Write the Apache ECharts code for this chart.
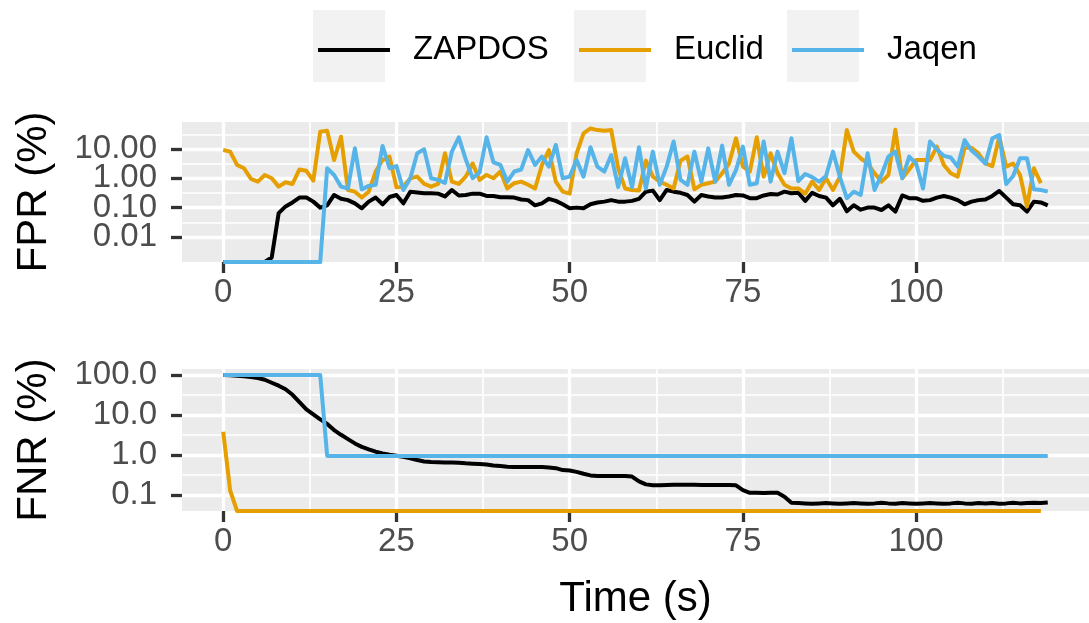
<!DOCTYPE html>
<html lang="en">
<head>
<meta charset="UTF-8">
<title>FPR / FNR over time</title>
<script src="https://cdn.jsdelivr.net/npm/echarts@6/dist/echarts.min.js"></script>
<style>
  html, body { margin: 0; padding: 0; background: #fff; }
  #chart { width: 1089px; height: 623px; }
</style>
</head>
<body>
<div id="chart"></div>
<script>
var names = ['ZAPDOS', 'Euclid', 'Jaqen'];
var colors = ['#000000', '#E69F00', '#56B4E9'];
var timeTicks = [0, 25, 50, 75, 100];
var fprTicks = [0.01, 0.1, 1, 10];
var fnrTicks = [0.1, 1, 10, 100];

// one sample per second (index = time in s); 0 means none -> drawn on the panel floor
var zapdosFpr = [
    0, 0, 0, 0, 0, 0, 0, 0.002, 0.065, 0.11,
    0.15, 0.22, 0.22, 0.16, 0.1, 0.12, 0.27, 0.2, 0.18, 0.14,
    0.095, 0.16, 0.22, 0.13, 0.23, 0.27, 0.14, 0.35, 0.33, 0.31,
    0.31, 0.3, 0.24, 0.4, 0.26, 0.27, 0.3, 0.3, 0.25, 0.25,
    0.225, 0.225, 0.22, 0.19, 0.18, 0.12, 0.14, 0.2, 0.17, 0.13,
    0.095, 0.1, 0.095, 0.13, 0.15, 0.16, 0.18, 0.16, 0.16, 0.17,
    0.2, 0.35, 0.38, 0.18, 0.4, 0.35, 0.32, 0.27, 0.16, 0.27,
    0.24, 0.22, 0.22, 0.24, 0.27, 0.26, 0.21, 0.21, 0.26, 0.29,
    0.28, 0.35, 0.31, 0.32, 0.17, 0.32, 0.25, 0.22, 0.12, 0.2,
    0.075, 0.12, 0.085, 0.1, 0.1, 0.083, 0.12, 0.073, 0.26, 0.21,
    0.21, 0.17, 0.18, 0.22, 0.25, 0.22, 0.18, 0.13, 0.16, 0.18,
    0.19, 0.25, 0.37, 0.22, 0.13, 0.12, 0.073, 0.16, 0.15, 0.12
];
var euclidFpr = [
    9.2, 8.1, 2.85, 2.2, 0.95, 0.77, 1.3, 1.0, 0.52, 0.73,
    0.64, 2.0, 1.8, 0.83, 39, 42, 4.2, 26, 0.4, 0.35,
    0.22, 0.35, 1.7, 4.2, 5.5, 0.49, 0.52, 1.0, 1.14, 0.64,
    0.52, 0.64, 7.1, 0.77, 0.64, 1.14, 3.2, 0.88, 1.3, 1.0,
    1.7, 0.45, 0.68, 0.77, 0.6, 0.45, 2.85, 9.2, 0.77, 0.35,
    0.3, 7, 34, 50, 44, 42, 44, 2.2, 0.45, 0.4,
    0.38, 4, 1.14, 0.77, 0.6, 0.45, 4, 5.5, 0.42, 0.6,
    0.68, 0.77, 1.48, 3.2, 23, 2.5, 1.7, 25, 1.14, 7.1,
    1.5, 0.6, 0.45, 0.45, 0.3, 0.77, 0.4, 1.0, 0.4, 1.14,
    44, 8.1, 4.8, 3.2, 1.48, 0.77, 1.3, 45, 1.0, 2.0,
    4.2, 4.2, 4.2, 12, 2.85, 1.48, 1.14, 11, 11, 7.1,
    3.2, 2.6, 26, 2.5, 3.2, 1.3, 0.108, 2.2, 0.68
];
var jaqenFpr = [
    0, 0, 0, 0, 0, 0, 0, 0, 0, 0,
    0, 0, 0, 0, 0, 2.2, 1.3, 0.52, 0.45, 10.5,
    0.42, 0.55, 0.6, 12.7, 2.2, 2.6, 0.4, 1.0, 7.1, 9.7,
    1.0, 0.88, 0.7, 8.1, 25, 4.4, 1.0, 1.6, 25, 3.5,
    2.85, 0.77, 1.7, 2.0, 9.2, 2.85, 5.5, 2.5, 13.7, 1.0,
    1.14, 4.2, 1.14, 11.4, 2.5, 1.7, 6.2, 0.5, 4.8, 0.5,
    11.4, 0.45, 8.1, 0.6, 2.5, 18, 0.88, 0.6, 8.1, 0.77,
    10.5, 0.77, 13, 0.6, 1.9, 12, 0.6, 0.68, 18, 0.77,
    8.1, 1.5, 23, 0.8, 1.4, 1.1, 0.77, 1.2, 8.1, 1.1,
    0.21, 0.35, 0.27, 7.1, 0.4, 1.3, 5.5, 8.1, 1.0, 5.5,
    3.2, 0.45, 18, 9.7, 5.8, 5.1, 2.5, 20, 8.8, 5.5,
    3.2, 23, 30, 0.64, 1.2, 4.8, 4.8, 0.42, 0.4, 0.35
];

// FNR (%)
var zapdosFnr = [
    100, 98, 96, 93, 89, 84, 76, 64, 54, 44,
    32, 21, 13.8, 10.4, 7.8, 6.0, 4.2, 3.2, 2.5, 1.95,
    1.6, 1.38, 1.21, 1.1, 1.02, 0.96, 0.91, 0.83, 0.75, 0.69,
    0.67, 0.66, 0.65, 0.65, 0.64, 0.62, 0.61, 0.6, 0.58, 0.55,
    0.53, 0.51, 0.5, 0.5, 0.5, 0.5, 0.5, 0.49, 0.47, 0.42,
    0.41, 0.38, 0.34, 0.31, 0.3, 0.3, 0.3, 0.3, 0.3, 0.29,
    0.22, 0.185, 0.176, 0.176, 0.178, 0.18, 0.18, 0.18, 0.18, 0.179,
    0.178, 0.178, 0.178, 0.178, 0.175, 0.133, 0.114, 0.114, 0.112, 0.114,
    0.114, 0.091, 0.064, 0.063, 0.062, 0.061, 0.062, 0.063, 0.062, 0.061,
    0.062, 0.063, 0.062, 0.061, 0.062, 0.064, 0.062, 0.061, 0.063, 0.062,
    0.061, 0.062, 0.063, 0.062, 0.061, 0.062, 0.064, 0.062, 0.061, 0.063,
    0.062, 0.063, 0.061, 0.062, 0.064, 0.062, 0.063, 0.064, 0.063, 0.065
];
var euclidFnr = [
    3.8, 0.13, 0, 0, 0, 0, 0, 0, 0, 0,
    0, 0, 0, 0, 0, 0, 0, 0, 0, 0,
    0, 0, 0, 0, 0, 0, 0, 0, 0, 0,
    0, 0, 0, 0, 0, 0, 0, 0, 0, 0,
    0, 0, 0, 0, 0, 0, 0, 0, 0, 0,
    0, 0, 0, 0, 0, 0, 0, 0, 0, 0,
    0, 0, 0, 0, 0, 0, 0, 0, 0, 0,
    0, 0, 0, 0, 0, 0, 0, 0, 0, 0,
    0, 0, 0, 0, 0, 0, 0, 0, 0, 0,
    0, 0, 0, 0, 0, 0, 0, 0, 0, 0,
    0, 0, 0, 0, 0, 0, 0, 0, 0, 0,
    0, 0, 0, 0, 0, 0, 0, 0, 0
];
var jaqenFnr = [
    100, 100, 100, 100, 100, 100, 100, 100, 100, 100,
    100, 100, 100, 100, 100, 0.95, 0.95, 0.95, 0.95, 0.95,
    0.95, 0.95, 0.95, 0.95, 0.95, 0.95, 0.95, 0.95, 0.95, 0.95,
    0.95, 0.95, 0.95, 0.95, 0.95, 0.95, 0.95, 0.95, 0.95, 0.95,
    0.95, 0.95, 0.95, 0.95, 0.95, 0.95, 0.95, 0.95, 0.95, 0.95,
    0.95, 0.95, 0.95, 0.95, 0.95, 0.95, 0.95, 0.95, 0.95, 0.95,
    0.95, 0.95, 0.95, 0.95, 0.95, 0.95, 0.95, 0.95, 0.95, 0.95,
    0.95, 0.95, 0.95, 0.95, 0.95, 0.95, 0.95, 0.95, 0.95, 0.95,
    0.95, 0.95, 0.95, 0.95, 0.95, 0.95, 0.95, 0.95, 0.95, 0.95,
    0.95, 0.95, 0.95, 0.95, 0.95, 0.95, 0.95, 0.95, 0.95, 0.95,
    0.95, 0.95, 0.95, 0.95, 0.95, 0.95, 0.95, 0.95, 0.95, 0.95,
    0.95, 0.95, 0.95, 0.95, 0.95, 0.95, 0.95, 0.95, 0.95, 0.95
];

var FONT = 'Liberation Sans, Arial, sans-serif';
var fprRange = [0.0014, 83];
var fnrRange = [0.04, 141];
var legendLeft = [313, 574, 787];

// zero -> panel floor, like ggplot puts -Inf on the edge
function toPairs(arr, floor) {
    return arr.map(function (v, i) { return [i, v > 0 ? v : floor]; });
}

// ggplot-like white grid: majors at ticks, minors halfway between (log-halfway on y)
function gridLines(yTicks, yRange) {
    var r10 = Math.sqrt(10);
    var d = [];
    timeTicks.forEach(function (v) {
        d.push({ xAxis: v, lineStyle: { width: 3.3 } });
        d.push({ xAxis: v + 12.5, lineStyle: { width: 1.7 } });
    });
    yTicks.forEach(function (v) { d.push({ yAxis: v, lineStyle: { width: 3.3 } }); });
    [yTicks[0] / r10].concat(yTicks.map(function (v) { return v * r10; }))
        .filter(function (v) { return v > yRange[0] && v < yRange[1]; })
        .forEach(function (v) { d.push({ yAxis: v, lineStyle: { width: 1.7 } }); });
    return {
        silent: true, z: 1, symbol: 'none', animation: false,
        label: { show: false },
        emphasis: { disabled: true },
        lineStyle: { color: '#ffffff', type: 'solid', opacity: 1 },
        data: d
    };
}

function xAxisOf(gridIndex, withName) {
    var ax = {
        type: 'value', gridIndex: gridIndex, min: -5.95, max: 124.95,
        axisLine: { show: false },
        splitLine: { show: false },
        axisTick: { show: true, customValues: timeTicks, length: 11, lineStyle: { color: '#333333', width: 3.3 } },
        axisLabel: {
            customValues: timeTicks, margin: 14, fontSize: 33, color: '#4D4D4D', fontFamily: FONT,
            showMinLabel: true, showMaxLabel: true
        }
    };
    if (withName) {
        ax.name = 'Time (s)';
        ax.nameLocation = 'middle';
        ax.nameGap = 67;
        ax.nameTextStyle = { fontSize: 42, color: '#000000', fontFamily: FONT };
    }
    return ax;
}

// data axis of a panel: carries the scale and the title only
function yDataAxis(gridIndex, name, range) {
    return {
        type: 'log', logBase: 10, gridIndex: gridIndex, position: 'left', offset: 0,
        min: range[0], max: range[1],
        name: name, nameLocation: 'middle', nameGap: 127,
        nameTextStyle: { fontSize: 42, color: '#000000', fontFamily: FONT },
        axisLine: { show: false }, splitLine: { show: false },
        axisTick: { show: false }, axisLabel: { show: false }
    };
}

// tick/label layer: the log panels are too tight for one axis to print every label
function yTickAxis(gridIndex, labels, range, digits) {
    return {
        type: 'log', logBase: 10, gridIndex: gridIndex, position: 'left', offset: 0,
        min: range[0], max: range[1],
        axisLine: { show: false },
        splitLine: { show: false },
        minorTick: { show: false },
        axisTick: { show: true, customValues: labels, length: 11, lineStyle: { color: '#333333', width: 3.3 } },
        axisLabel: {
            customValues: labels, margin: 25, fontSize: 33, color: '#4D4D4D', fontFamily: FONT,
            showMinLabel: true, showMaxLabel: true, hideOverlap: false,
            formatter: function (v) { return Number(v).toFixed(digits); }
        }
    };
}

var panels = [
    { grid: 0, values: [zapdosFpr, euclidFpr, jaqenFpr], range: fprRange, ticks: fprTicks },
    { grid: 1, values: [zapdosFnr, euclidFnr, jaqenFnr], range: fnrRange, ticks: fnrTicks }
];

var series = [];
panels.forEach(function (p) {
    names.forEach(function (n, i) {
        var s = {
            name: n, type: 'line', xAxisIndex: p.grid, yAxisIndex: p.grid,
            data: toPairs(p.values[i], p.range[0]),
            symbol: 'none', showSymbol: false, animation: false,
            lineStyle: { color: colors[i], width: 4, join: 'round' },
            itemStyle: { color: colors[i] },
            z: 2 + i
        };
        if (i === 0) s.markLine = gridLines(p.ticks, p.range);
        series.push(s);
    });
});

var fprLabelA = fprTicks.filter(function (v, i) { return i % 2 === 0; });
var fprLabelB = fprTicks.filter(function (v, i) { return i % 2 === 1; });
var fnrLabelA = fnrTicks.filter(function (v, i) { return i % 2 === 0; });
var fnrLabelB = fnrTicks.filter(function (v, i) { return i % 2 === 1; });

var option = {
    backgroundColor: '#ffffff',
    animation: false,
    grid: [
        { left: 182, top: 122, width: 916, height: 140, show: true, backgroundColor: '#EBEBEB', borderWidth: 0 },
        { left: 182, top: 369, width: 916, height: 142, show: true, backgroundColor: '#EBEBEB', borderWidth: 0 }
    ],
    graphic: names.map(function (n, i) {
        return { type: 'rect', left: legendLeft[i], top: 10, z: -1, shape: { width: 72, height: 72 }, style: { fill: '#F2F2F2' } };
    }),
    legend: names.map(function (n, i) {
        return {
            data: [n], left: legendLeft[i], top: 25, icon: 'rect',
            itemWidth: 72, itemHeight: 4, selectedMode: false,
            textStyle: { fontSize: 33, color: '#000000', fontFamily: FONT, lineHeight: 40, padding: [0, 0, 0, 18] }
        };
    }),
    xAxis: [xAxisOf(0, false), xAxisOf(1, true)],
    yAxis: [
        yDataAxis(0, 'FPR (%)', fprRange),
        yDataAxis(1, 'FNR (%)', fnrRange),
        yTickAxis(0, fprLabelA, fprRange, 2),
        yTickAxis(0, fprLabelB, fprRange, 2),
        yTickAxis(1, fnrLabelA, fnrRange, 1),
        yTickAxis(1, fnrLabelB, fnrRange, 1)
    ],
    series: series
};

var myChart = echarts.init(document.getElementById('chart'));
myChart.setOption(option);
</script>
</body>
</html>
